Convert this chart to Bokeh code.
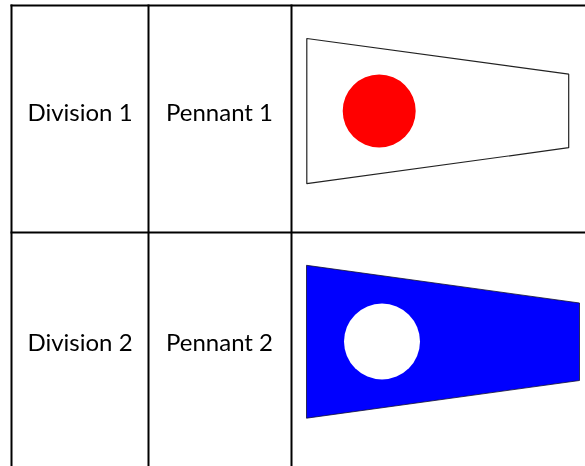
from bokeh.plotting import figure
from bokeh.models import Range1d
from bokeh.core.properties import value
from bokeh.embed import file_html
from bokeh.resources import INLINE

W, H = 585, 466
division_labels = ["Division 1", "Division 2"]
pennant_labels = ["Pennant 1", "Pennant 2"]
label_y = [110.5, 341]
division_x = [79.5, 79.5]
pennant_x = [219, 219]

grid_x = [11, 148, 291]
grid_y = [5, 232]

pennant1_x = [306.3, 568.2, 568.2, 306.3]
pennant1_y = [38, 73.7, 147.2, 183.2]
pennant2_x = [306, 579, 579, 306]
pennant2_y = [264.8, 302.5, 380, 417.7]

circle_x = [378.7, 381.5]
circle_y = [110.5, 341]
circle_r = [36.5, 38]

p = figure(width=W, height=H, output_backend="svg", toolbar_location=None,
           x_range=Range1d(0, W), y_range=Range1d(H, 0), x_axis_location=None, y_axis_location=None,
           min_border=0, outline_line_color=None, background_fill_color="white",
           border_fill_color="white",
           styles={"position": "fixed", "left": "0px", "top": "0px"})
p.grid.visible = False

for x in grid_x:
    p.segment([x], [grid_y[0] - 1], [x], [H], line_color="black", line_width=2)
for y in grid_y:
    p.segment([grid_x[0] - 1], [y], [W], [y], line_color="black", line_width=2)

p.patch(pennant1_x, pennant1_y, fill_color="white", line_color="#222222", line_width=1.2)
p.patch(pennant2_x, pennant2_y, fill_color="#0000ff", line_color="#101030", line_width=0.8)
p.circle(circle_x[:1], circle_y[:1], radius=circle_r[0], fill_color="#ff0000", line_color=None)
p.circle(circle_x[1:], circle_y[1:], radius=circle_r[1], fill_color="white", line_color=None)

for xs, labels in ((division_x, division_labels), (pennant_x, pennant_labels)):
    p.text(xs, label_y, text=labels, text_font=value("Lato"), text_font_size="24px",
           text_align="center", text_baseline="middle", text_color="#000000")

open("out.html", "w").write(file_html(p, INLINE))
